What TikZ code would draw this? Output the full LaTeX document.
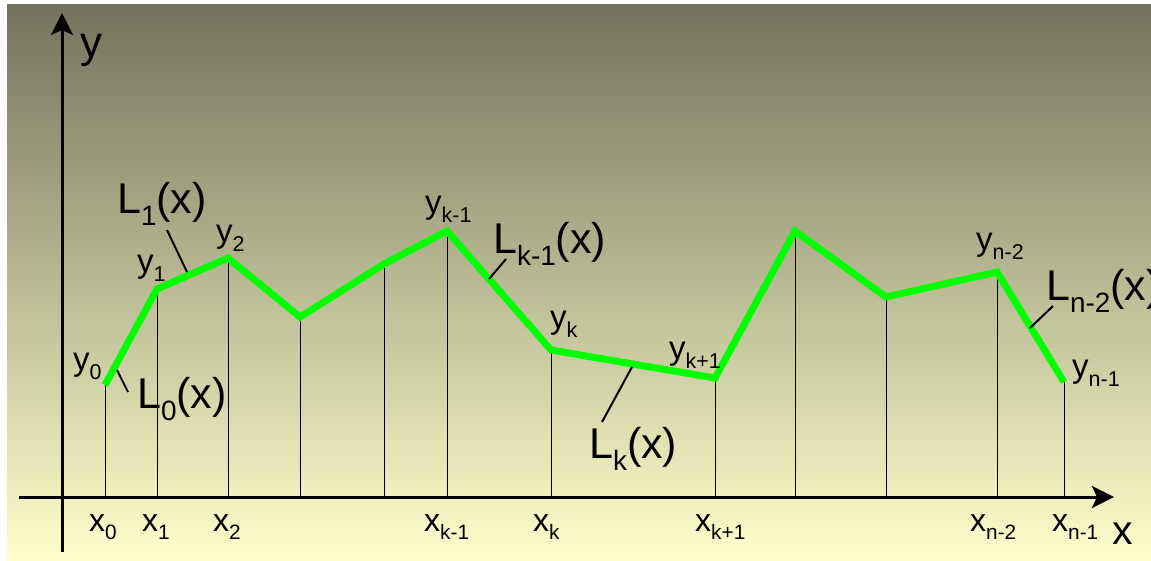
\documentclass[tikz,border=0pt]{standalone}
\usepackage{fontspec}
\setmainfont{Liberation Sans}
\usetikzlibrary{arrows.meta}
\definecolor{bgtop}{RGB}{115,115,92}
\definecolor{bgmid}{RGB}{196,196,156}
\definecolor{bgbot}{RGB}{255,255,204}
\definecolor{segcol}{RGB}{0,255,0}
\newcommand{\ix}[1]{\raisebox{-0.28em}{\scalebox{0.65}{#1}}}

\begin{document}
\begin{tikzpicture}[x=1pt,y=-1pt,
  axis/.style={line width=3pt,-{Stealth[length=22pt,width=22pt,inset=5pt]}},
  ptlab/.style={anchor=base west,inner sep=0pt,font=\fontsize{33}{40}\selectfont},
  xlab/.style={anchor=base west,inner sep=0pt,font=\fontsize{32}{38}\selectfont},
  llab/.style={anchor=base west,inner sep=0pt,font=\fontsize{43}{50}\selectfont},
  leader/.style={line width=2pt}]
\useasboundingbox (0,0) rectangle (1151,560);
\clip (0,0) rectangle (1151,560);
\shade[top color=bgtop,middle color=bgmid,bottom color=bgbot] (7,4) rectangle (1151,560);
% knots
\foreach \n/\x/\y in {0/105/385,1/157/289,2/228/258,3/300/317,4/384/264,5/447/231,
    6/551/350,7/715/378,8/795/231,9/886/297,10/997/272,11/1064/382}
  \coordinate (p\n) at (\x,\y);
\coordinate (o) at (62,497);
\coordinate (xs) at (19,497);
\coordinate (xe) at (1114,497);
\coordinate (ys) at (62,552);
\coordinate (ye) at (62,13);
\foreach \n in {0,...,11}
  \draw[line width=1pt] (p\n) -- (p\n |- o);
\draw[axis] (xs) -- (xe);
\draw[axis] (ys) -- (ye);
\node[llab,font=\fontsize{41}{48}\selectfont] (xaxis) at (1112,544) {x};
\node[llab,font=\fontsize{44}{50}\selectfont] (yaxis) at (80,57) {y};
\draw[segcol,line width=7pt] (p0) -- (p1) -- (p2) -- (p3) -- (p4) -- (p5) -- (p6)
  -- (p7) -- (p8) -- (p9) -- (p10) -- (p11);
% abscissas
\node[xlab] (x0) at (89,531) {x\ix{0}};
\node[xlab] (x1) at (142,531) {x\ix{1}};
\node[xlab] (x2) at (213,531) {x\ix{2}};
\node[xlab] (xk1) at (424,531) {x\ix{k-1}};
\node[xlab] (xk) at (533,531) {x\ix{k}};
\node[xlab] (xk2) at (695,531) {x\ix{k+1}};
\node[xlab] (xn2) at (970,531) {x\ix{n-2}};
\node[xlab] (xn1) at (1052,531) {x\ix{n-1}};
% ordinates
\node[ptlab] (y0) at (73,370) {y\ix{0}};
\node[ptlab] (y1) at (137,272) {y\ix{1}};
\node[ptlab] (y2) at (216,242) {y\ix{2}};
\node[ptlab] (yk1) at (425,213) {y\ix{k-1}};
\node[ptlab] (yk) at (550,328) {y\ix{k}};
\node[ptlab] (yk2) at (669,359) {y\ix{k+1}};
\node[ptlab] (yn2) at (976,250) {y\ix{n-2}};
\node[ptlab] (yn1) at (1072,377) {y\ix{n-1}};
% segment labels
\node[llab] (L0) at (137,408) {L\ix{0}(x)};
\node[llab] (L1) at (117,213) {L\ix{1}(x)};
\node[llab] (Lk1) at (493,253) {L\ix{k-1}(x)};
\node[llab] (Lk) at (589,458) {L\ix{k}(x)};
\node[llab] (Ln2) at (1046,300) {L\ix{n-2}(x)};
\coordinate (a0) at (117,370); \coordinate (b0) at (128,392);
\coordinate (a1) at (187,272); \coordinate (b1) at (167,230);
\coordinate (ak1) at (489,279); \coordinate (bk1) at (506,259);
\coordinate (ak) at (632,367); \coordinate (bk) at (602,422);
\coordinate (an2) at (1030,328); \coordinate (bn2) at (1053,306);
\draw[leader] (a0) -- (b0);
\draw[leader] (a1) -- (b1);
\draw[leader] (ak1) -- (bk1);
\draw[leader] (ak) -- (bk);
\draw[leader] (an2) -- (bn2);
\end{tikzpicture}
\end{document}
